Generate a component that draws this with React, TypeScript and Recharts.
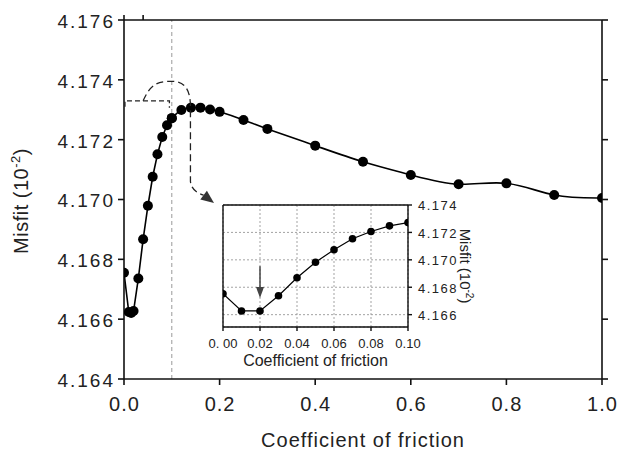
import React from 'react';
import { LineChart, Line, XAxis, YAxis, CartesianGrid, ReferenceLine } from 'recharts';

const FONT = '"Liberation Sans", Arial, Helvetica, sans-serif';

// Main panel data
const frictionMain = [0, 0.01, 0.015, 0.02, 0.03, 0.04, 0.05, 0.06, 0.07, 0.08, 0.09, 0.1, 0.12, 0.14, 0.16, 0.18, 0.2, 0.25, 0.3, 0.4, 0.5, 0.6, 0.7, 0.8, 0.9, 1.0];
const misfitMain = [4.16755, 4.16624, 4.16621, 4.16627, 4.16736, 4.16867, 4.16979, 4.17076, 4.17151, 4.17209, 4.17248, 4.17272, 4.17299, 4.17307, 4.17307, 4.17301, 4.17293, 4.17266, 4.17236, 4.1718, 4.17126, 4.17082, 4.17051, 4.17054, 4.17015, 4.17005];

// Inset data
const frictionInset = [0, 0.01, 0.02, 0.03, 0.04, 0.05, 0.06, 0.07, 0.08, 0.09, 0.1];
const misfitInset = [4.16753, 4.16627, 4.16627, 4.16738, 4.16869, 4.16982, 4.17074, 4.17154, 4.17207, 4.17248, 4.17272];

// Ticks
const mainXTicks = [0, 0.2, 0.4, 0.6, 0.8, 1.0];
const mainTopTicks = [0, 0.1, 0.2, 0.3, 0.4, 0.5, 0.6, 0.7, 0.8, 0.9, 1.0];
const mainYTicks = [4.164, 4.166, 4.168, 4.17, 4.172, 4.174, 4.176];
const insetXTicks = [0, 0.02, 0.04, 0.06, 0.08, 0.1];
const insetXTickLabels = ['0. 00', '0.02', '0.04', '0.06', '0.08', '0.10'];
const insetYTicks = [4.166, 4.168, 4.17, 4.172, 4.174];

const xLabel = 'Coefficient of friction';
const yLabelMain = 'Misfit (10';
const yLabelSup = '-2';

const splitAt = 0.1;
const mainData = frictionMain.map((x, i) => ({
  x,
  left: x <= splitAt + 1e-9 ? misfitMain[i] : null,
  right: x >= splitAt - 1e-9 ? misfitMain[i] : null,
}));
const insetData = frictionInset.map((x, i) => ({ x, y: misfitInset[i] }));

// Layout constants (plot boxes)
const MAIN = { left: 124, top: 20, right: 602, bottom: 379, x0: 0, x1: 1, y0: 4.164, y1: 4.176 };
const INSET = { left: 223, top: 205, right: 408, bottom: 327, x0: 0, x1: 0.1, y0: 4.1651, y1: 4.174 };
const fx = (b: any, x: number) => b.left + ((x - b.x0) / (b.x1 - b.x0)) * (b.right - b.left);
const fy = (b: any, v: number) => b.top + ((b.y1 - v) / (b.y1 - b.y0)) * (b.bottom - b.top);

const EmptyTick = () => <g />;

const MainYTick = (props: any) => {
  const { x, y, payload } = props;
  return (
    <text x={x} y={y} dy="0.42em" textAnchor="end" fontSize={19} letterSpacing={2} fill="#222" fontFamily={FONT}>
      {Number(payload.value).toFixed(3)}
    </text>
  );
};
const MainXTick = (props: any) => {
  const { x, y, payload } = props;
  return (
    <text x={x + 0.5} y={y} dy="0.71em" textAnchor="middle" fontSize={20} letterSpacing={1} fill="#222" fontFamily={FONT}>
      {Number(payload.value).toFixed(1)}
    </text>
  );
};
const InsetXTick = (props: any) => {
  const { x, y, index } = props;
  return (
    <text x={x} y={y} dy="0.71em" textAnchor="middle" fontSize={13} fill="#222" fontFamily={FONT}>
      {insetXTickLabels[index]}
    </text>
  );
};
const InsetYTick = (props: any) => {
  const { x, y, payload } = props;
  return (
    <text x={x} y={y} dy="0.42em" textAnchor="start" fontSize={13} letterSpacing={1.5} fill="#222" fontFamily={FONT}>
      {Number(payload.value).toFixed(3)}
    </text>
  );
};

const AX = '#111';

export default function App() {
  // annotation geometry (from data coordinates)
  const bY = fy(MAIN, 4.1733);
  const bYd = fy(MAIN, 4.1731);
  const bx0 = fx(MAIN, 0.002);
  const bx1 = fx(MAIN, 0.095);
  const arcX0 = fx(MAIN, 0.04);
  const peakX = fx(MAIN, 0.1);
  const peakY = fy(MAIN, 4.17395);
  const arcX1 = fx(MAIN, 0.139);
  const arcYd = fy(MAIN, 4.1731);
  const vY = fy(MAIN, 4.1706);
  const tipX = 214;
  const tipY = 203;
  const dxA = 0.8, dyA = 0.6;
  const aL = 13, aW = 5.5;
  const baseX = tipX - aL * dxA, baseY = tipY - aL * dyA;
  const p1 = `${baseX - aW * dyA},${baseY + aW * dxA}`;
  const p2 = `${baseX + aW * dyA},${baseY - aW * dxA}`;

  const iax = fx(INSET, 0.02);
  const iaTop = fy(INSET, 4.16953);
  const iaTip = fy(INSET, 4.16722);

  return (
    <div style={{ position: 'absolute', left: 0, top: 0, width: 617, height: 453, background: '#fff', fontFamily: FONT }}>
      <div style={{ position: 'absolute', left: 0, top: 0 }}>
        <LineChart width={617} height={453} data={mainData} margin={{ top: 19, right: 14, bottom: 0, left: 0 }}>
          <XAxis
            dataKey="x"
            type="number"
            domain={[0, 1]}
            ticks={mainXTicks}
            allowDataOverflow
            height={74}
            tickSize={6}
            tickMargin={12}
            stroke={AX}
            strokeWidth={1.6}
            tick={<MainXTick />}
          />
          <XAxis
            xAxisId="top"
            orientation="top"
            type="number"
            domain={[0, 1]}
            ticks={mainTopTicks}
            allowDataOverflow
            height={1}
            tickSize={5}
            stroke={AX}
            strokeWidth={1.6}
            tick={<EmptyTick />}
          />
          <YAxis
            type="number"
            domain={[4.164, 4.176]}
            ticks={mainYTicks}
            allowDataOverflow
            width={124}
            tickSize={6}
            tickMargin={3}
            stroke={AX}
            strokeWidth={1.6}
            tick={<MainYTick />}
          />
          <YAxis
            yAxisId="right"
            orientation="right"
            type="number"
            domain={[4.164, 4.176]}
            ticks={mainYTicks}
            allowDataOverflow
            width={1}
            tickSize={6}
            stroke={AX}
            strokeWidth={1.6}
            tick={<EmptyTick />}
          />
          <ReferenceLine x={0.1} stroke="#999" strokeWidth={1} strokeDasharray="4 3" />
          <Line
            dataKey="left"
            type="linear"
            stroke="#000"
            strokeWidth={1.6}
            dot={{ r: 5, fill: '#000', stroke: '#000', strokeWidth: 0 }}
            activeDot={false}
            connectNulls={false}
            isAnimationActive={false}
          />
          <Line
            dataKey="right"
            type="natural"
            stroke="#000"
            strokeWidth={1.6}
            dot={{ r: 5, fill: '#000', stroke: '#000', strokeWidth: 0 }}
            activeDot={false}
            connectNulls={false}
            isAnimationActive={false}
          />
        </LineChart>
      </div>

      <div style={{ position: 'absolute', left: 200, top: 195 }}>
        <LineChart width={290} height={177} data={insetData} margin={{ top: 9, right: 0, bottom: 0, left: 22 }}>
          <CartesianGrid stroke="#999" strokeDasharray="2 2" strokeWidth={0.9} />
          <XAxis
            dataKey="x"
            type="number"
            domain={[0, 0.1]}
            ticks={insetXTicks}
            allowDataOverflow
            height={45}
            tickSize={4}
            tickMargin={8}
            stroke={AX}
            strokeWidth={1.4}
            tick={<InsetXTick />}
          />
          <XAxis
            xAxisId="t"
            orientation="top"
            type="number"
            domain={[0, 0.1]}
            allowDataOverflow
            height={1}
            stroke={AX}
            strokeWidth={1.4}
            tick={false}
            tickLine={false}
          />
          <YAxis
            orientation="right"
            type="number"
            domain={[4.1651, 4.174]}
            ticks={insetYTicks}
            allowDataOverflow
            width={82}
            tickSize={4}
            tickMargin={6}
            stroke={AX}
            strokeWidth={1.4}
            tick={<InsetYTick />}
          />
          <YAxis
            yAxisId="l"
            orientation="left"
            type="number"
            domain={[4.1651, 4.174]}
            allowDataOverflow
            width={1}
            stroke={AX}
            strokeWidth={1.4}
            tick={false}
            tickLine={false}
          />
          <Line
            dataKey="y"
            type="linear"
            stroke="#000"
            strokeWidth={1.2}
            dot={{ r: 3.8, fill: '#000', stroke: '#000', strokeWidth: 0 }}
            activeDot={false}
            isAnimationActive={false}
          />
        </LineChart>
      </div>

      <svg width={617} height={453} style={{ position: 'absolute', left: 0, top: 0, pointerEvents: 'none' }}>
        {/* bracket + arc annotation */}
        <path
          d={`M${bx0},${bYd} L${bx0},${bY} L${bx1},${bY} L${bx1},${bYd + 1}`}
          fill="none"
          stroke="#222"
          strokeWidth={1.3}
          strokeDasharray="5 3"
        />
        <path
          d={`M${arcX0},${bY} C${arcX0 + 7},${peakY + 4} ${peakX - 16},${peakY} ${peakX},${peakY} C${arcX1 - 6},${peakY} ${arcX1},${peakY + 8} ${arcX1},${arcYd} L${arcX1},${vY} Q${arcX1 + 1},${baseY - 4} ${baseX},${baseY}`}
          fill="none"
          stroke="#222"
          strokeWidth={1.3}
          strokeDasharray="7 4"
        />
        <polygon points={`${tipX},${tipY} ${p1} ${p2}`} fill="#333" />

        {/* inset arrow */}
        <line x1={iax} y1={iaTop} x2={iax} y2={iaTip - 9} stroke="#444" strokeWidth={1.5} />
        <polygon points={`${iax},${iaTip} ${iax - 4},${iaTip - 11} ${iax + 4},${iaTip - 11}`} fill="#444" />

        {/* main axis labels */}
        <text x={363} y={447} textAnchor="middle" fontSize={20} letterSpacing={1} fill="#222" fontFamily={FONT}>
          {xLabel}
        </text>
        <text transform="translate(27.5,201) rotate(-90)" textAnchor="middle" fontSize={20} letterSpacing={0.5} fill="#222" fontFamily={FONT}>
          {yLabelMain}
          <tspan dy={-8} fontSize={13}>{yLabelSup}</tspan>
          <tspan dy={8}>)</tspan>
        </text>

        {/* inset axis labels */}
        <text x={315.5} y={366} textAnchor="middle" fontSize={16} fill="#222" fontFamily={FONT}>
          {xLabel}
        </text>
        <text transform="translate(460,266) rotate(90)" textAnchor="middle" fontSize={15} fill="#222" fontFamily={FONT}>
          {yLabelMain}
          <tspan dy={-6} fontSize={10}>{yLabelSup}</tspan>
          <tspan dy={6}>)</tspan>
        </text>
      </svg>
    </div>
  );
}
